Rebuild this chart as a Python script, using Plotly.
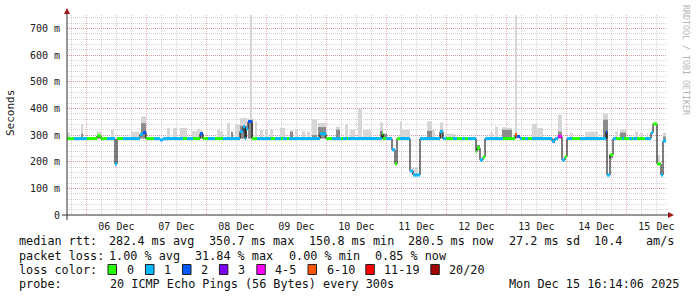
import pandas as pd
import plotly.graph_objects as go

# ---------------- data ----------------
START = pd.Timestamp("2025-12-05 16:14:06")
END = pd.Timestamp("2025-12-15 16:14:06")

# median rtt segments: start (hours after START), median (ms), lost pings (of 20)
seg_hours = [0, 2.8, 8, 12, 13.6, 16, 19.2, 20, 22.4, 29.2, 30.4, 31.6, 34.8, 37.2, 38.4,
             46.4, 48, 50.4, 53.2, 54.4, 56.4, 59.2, 62.4, 69.2, 70.4, 71.2, 71.6, 72.4, 74,
             76, 81.6, 83.2, 85.6, 86.4, 88, 88.8, 101.2, 103.6, 106, 109.6, 110.4, 112, 112.4,
             126, 126.4, 127.6, 130, 131.2, 132, 133.2, 137.2, 138.4, 141.2, 149.2, 150.4,
             151.6, 154.4, 156, 158, 159.2, 160.4, 163.6, 164, 165.2, 166.4, 167.2, 174.4,
             179.2, 180, 181.2, 182, 183.2, 184.4, 186, 194, 195.2, 196.4, 198, 199.2, 200,
             202, 205.2, 215.6, 216, 217.2, 218.4, 219.6, 222, 222.8, 224.8, 226, 226.4, 228,
             231.2, 233.6, 234.4, 236, 237.6, 238.4]
seg_median = [287, 287, 287, 297, 287, 287, 192, 287, 287, 303, 310, 287, 287, 282, 287,
              287, 287, 287, 305, 287, 287, 287, 287, 313, 331, 287, 324, 351, 287,
              287, 287, 287, 287, 287, 287, 287, 305, 287, 287, 287, 287, 287, 287,
              305, 287, 287, 245, 192, 287, 287, 165, 150, 287, 313, 287,
              287, 287, 287, 287, 287, 287, 238, 252, 207, 218, 287, 287,
              301, 295, 287, 287, 287, 287, 287, 278, 287, 295, 207, 219, 287,
              287, 287, 313, 150, 226, 287, 287, 287, 287, 287, 287, 287, 287,
              287, 309, 342, 192, 150, 278]
seg_loss = [0, 1, 0, 0, 0, 1, 1, 0, 1, 1, 2, 0, 1, 1, 1,
            0, 1, 0, 2, 0, 1, 0, 1, 1, 1, 1, 1, 2, 0,
            1, 0, 1, 0, 1, 0, 1, 1, 0, 1, 0, 1, 0, 1,
            0, 0, 1, 1, 0, 0, 1, 1, 1, 1, 1, 1,
            0, 1, 0, 1, 0, 1, 0, 0, 1, 0, 1, 0,
            7, 2, 1, 0, 1, 0, 1, 1, 1, 4, 1, 0, 1,
            0, 1, 2, 1, 0, 1, 0, 1, 0, 1, 0, 1, 0,
            1, 1, 0, 0, 1, 1]
data_end_hour = 239.6

# smoke (spread of the 20 pings): light = full spread, core = dense part
smoke_h0 = [0, 5.6, 12, 17.6, 19.2, 25.6, 29.6, 40, 42.4, 45.2, 50, 52, 53.2, 60, 61.2, 64,
            65.6, 67.2, 69.2, 72.4, 75.2, 77.2, 79.2, 81.2, 85.2, 89.2, 91.2, 94, 96, 98,
            100.4, 107.6, 111.2, 113.2, 116.4, 118.4, 121.2, 125.2, 126.4, 133.2, 134, 138,
            144, 146, 149.2, 151.2, 164, 169.2, 171.2, 174, 176, 179.2, 186, 188, 194, 196.4,
            201.2, 207.2, 214.4, 216.8, 219.2, 221.2, 227.2, 229.2, 232, 236, 238.4, 73.2]
smoke_h1 = [1.2, 6.4, 13.6, 18.8, 20, 28.8, 31.6, 41.2, 44, 48, 52, 53.2, 54.4, 61.2, 62.4, 65.2,
            66.4, 69.2, 72, 74.4, 76, 78.4, 80.4, 82.4, 87.2, 90.4, 92.4, 95.2, 97.2, 100,
            103.6, 109.2, 112.4, 115.2, 118, 121.2, 122, 126.4, 128, 134, 137.2, 140.4,
            146, 147.2, 150.4, 155.2, 165.2, 170.4, 172.4, 176, 178, 180, 188, 190.4, 195.2, 198,
            202.4, 212.4, 216.4, 218.4, 220.4, 223.6, 228.4, 230.4, 232.4, 237.2, 239.6, 74.0]
smoke_lo = [287, 287, 287, 287, 180, 287, 287, 287, 287, 287, 287, 287, 287, 287, 287, 287,
            287, 287, 287, 287, 287, 287, 287, 287, 287, 287, 287, 287, 287, 287,
            287, 287, 287, 287, 287, 287, 287, 287, 287, 287, 287, 150,
            287, 287, 287, 287, 240, 287, 287, 287, 287, 287, 287, 287, 270, 287,
            287, 287, 287, 213, 287, 287, 287, 287, 287, 192, 278, 287]
smoke_hi = [310, 342, 313, 320, 195, 313, 370, 327, 327, 327, 315, 324, 318, 320, 315, 346,
            313, 339, 364, 362, 351, 320, 320, 320, 327, 318, 320, 316, 313, 360,
            346, 332, 342, 320, 398, 320, 316, 348, 305, 351, 320, 177,
            351, 320, 348, 305, 263, 309, 332, 330, 327, 751, 342, 327, 287, 376,
            309, 313, 380, 226, 313, 320, 313, 309, 309, 226, 310, 751]

core_h0 = [5.6, 12, 29.6, 53.2, 65.6, 69.2, 72.4, 89.2, 98, 100.4, 107.6, 125.2, 126.4, 144,
           149.2, 164, 174, 176, 179.2, 194, 196.4, 214.4, 216.8, 221.2, 238.4]
core_h1 = [6.4, 13.6, 31.6, 54.4, 66.4, 72, 74.4, 90.4, 100, 103.6, 109.2, 126.4, 128, 146,
           150.4, 165.2, 176, 178, 180, 195.2, 198, 216.4, 218.4, 223.6, 239.6]
core_lo = [287, 287, 287, 287, 287, 287, 287, 287, 287, 287, 287, 287, 287, 287,
           287, 245, 287, 287, 287, 272, 287, 287, 213, 287, 278]
core_hi = [305, 300, 345, 310, 313, 335, 357, 313, 300, 330, 320, 316, 305, 316,
           320, 263, 320, 320, 309, 287, 313, 358, 226, 309, 295]

y_tick_vals = [0, 100, 200, 300, 400, 500, 600, 700]
y_tick_text = ["0", "100 m", "200 m", "300 m", "400 m", "500 m", "600 m", "700 m"]
y_max = 751

loss_labels = ["0", "1", "2", "3", "4-5", "6-10", "11-19", "20/20"]
loss_colors = ["#26ff00", "#00b8ff", "#0059ff", "#7e00ff", "#ff00ff", "#ff5500", "#ff0000", "#a10000"]

rtt_items = ["median rtt:", "282.4 ms avg", "350.7 ms max", "150.8 ms min", "280.5 ms now",
             "27.2 ms sd", "10.4", "am/s"]
loss_items = ["packet loss:", "1.00 % avg", "31.84 % max", "0.00 % min", "0.85 % now"]
probe_items = ["probe:", "20 ICMP Echo Pings (56 Bytes) every 300s"]
stamp = "Mon Dec 15 16:14:06 2025"

# ---------------- helpers ----------------
MONO = "DejaVu Sans Mono"
L, T, W, H = 67, 15, 600, 200


def t(h):
    return START + pd.Timedelta(hours=h)


def px(x):
    return (x - L) / W


def py(y):
    return (T + H - y) / H


def bucket(n):
    if n <= 3:
        return n
    if n <= 5:
        return 4
    if n <= 10:
        return 5
    if n <= 19:
        return 6
    return 7


def nb(s):
    return s.replace(" ", "\u00a0")


fig = go.Figure()

# smoke bars
for h0s, h1s, los, his, col in [(smoke_h0, smoke_h1, smoke_lo, smoke_hi, "#d6d6d6"),
                                (core_h0, core_h1, core_lo, core_hi, "#8c8c8c")]:
    fig.add_trace(go.Bar(
        x=[t((a + b) / 2) for a, b in zip(h0s, h1s)],
        y=[hi - lo for lo, hi in zip(los, his)],
        base=los,
        width=[(b - a) * 3600 * 1000 for a, b in zip(h0s, h1s)],
        marker=dict(color=col, line=dict(width=0)),
        hoverinfo="skip", showlegend=False))

# black step line of the median
fig.add_trace(go.Scatter(
    x=[t(h) for h in seg_hours] + [t(data_end_hour)],
    y=seg_median + [seg_median[-1]],
    mode="lines", line=dict(color="#000000", width=1, shape="hv"),
    hoverinfo="skip", showlegend=False))

# coloured median segments by loss
ends = seg_hours[1:] + [data_end_hour]
for b, col in enumerate(loss_colors):
    xs, ys = [], []
    for h0, h1, m, n in zip(seg_hours, ends, seg_median, seg_loss):
        if bucket(n) == b:
            xs += [t(h0), t(h1), None]
            ys += [m, m, None]
    if xs:
        fig.add_trace(go.Scatter(x=xs, y=ys, mode="lines",
                                 line=dict(color=col, width=3),
                                 hoverinfo="skip", showlegend=False))

major = "rgba(230,90,90,0.5)"
minor = "rgba(130,130,130,0.35)"

fig.update_layout(
    width=697, height=297, autosize=False,
    margin=dict(l=L, r=697 - L - W, t=T, b=297 - T - H),
    paper_bgcolor="white", plot_bgcolor="white",
    barmode="overlay", showlegend=False,
    font=dict(family=MONO, size=10, color="#202020"),
    xaxis=dict(
        type="date", range=[START, END],
        tick0="2025-12-06", dtick=86400000, tickformat="%d %b",
        ticklabelmode="period", ticks="", ticklabelstandoff=4,
        showgrid=True, gridcolor=major, griddash="1px,1px", gridwidth=1,
        minor=dict(dtick=6 * 3600000, showgrid=True, gridcolor=minor, griddash="1px,1px"),
        showline=False, zeroline=False,
        tickfont=dict(family=MONO, size=10, color="#202020")),
    yaxis=dict(
        range=[0, y_max], tickvals=y_tick_vals, ticktext=y_tick_text,
        ticks="", ticklabelstandoff=6,
        showgrid=True, gridcolor=major, griddash="1px,1px", gridwidth=1,
        minor=dict(dtick=20, showgrid=True, gridcolor=minor, griddash="1px,1px"),
        showline=False, zeroline=False,
        tickfont=dict(family=MONO, size=10, color="#202020")),
)

axis_col = "#303030"
arrow_col = "#a01818"
shapes = [
    dict(type="line", xref="paper", yref="paper", x0=px(67), x1=px(67), y0=py(220), y1=py(12),
         line=dict(color=axis_col, width=1)),
    dict(type="line", xref="paper", yref="paper", x0=px(62), x1=px(670), y0=py(215), y1=py(215),
         line=dict(color=axis_col, width=1)),
    dict(type="path", xref="paper", yref="paper",
         path=f"M {px(64)} {py(14)} L {px(70)} {py(14)} L {px(67)} {py(8)} Z",
         fillcolor=arrow_col, line=dict(color=arrow_col, width=0)),
    dict(type="path", xref="paper", yref="paper",
         path=f"M {px(668)} {py(212)} L {px(668)} {py(218)} L {px(674)} {py(215)} Z",
         fillcolor=arrow_col, line=dict(color=arrow_col, width=0)),
]

annotations = [
    dict(text="Seconds", xref="paper", yref="paper", x=px(10), y=py(113), showarrow=False,
         textangle=-90, font=dict(family=MONO, size=11, color="#202020"),
         xanchor="center", yanchor="middle"),
    dict(text=nb("RRDTOOL / TOBI OETIKER"), xref="paper", yref="paper", x=px(686), y=py(60),
         showarrow=False, textangle=90, font=dict(family=MONO, size=8.3, color="#b4b4b4"),
         xanchor="center", yanchor="middle"),
]

FS = 11.8


def add_text(s, x, y, anchor="left"):
    annotations.append(dict(text=nb(s), xref="paper", yref="paper", x=px(x), y=py(y),
                            showarrow=False, xanchor=anchor, yanchor="middle",
                            font=dict(family=MONO, size=FS, color="#101010")))


for s, x in zip(rtt_items, [16.5, 106.5, 206.5, 306.5, 406, 506.5, 591.5, 644]):
    add_text(s, x, 241)
for s, x in zip(loss_items, [16.5, 106.5, 193, 287, 373]):
    add_text(s, x, 255.5)
add_text("loss color:", 16.5, 269.5)
box_x = [108, 145.5, 182.5, 219.4, 256.8, 308, 365.8, 430.8]
for lab, col, bx in zip(loss_labels, loss_colors, box_x):
    shapes.append(dict(type="rect", xref="paper", yref="paper",
                       x0=px(bx), x1=px(bx + 8.5), y0=py(274.5), y1=py(264.5),
                       fillcolor=col, line=dict(color="#202020", width=1)))
    add_text(lab, bx + 16.5, 269.5)
add_text(probe_items[0], 16.5, 284)
add_text(probe_items[1], 108, 284)
add_text(stamp, 681, 284, anchor="right")

fig.update_layout(shapes=shapes, annotations=annotations)
fig.write_html("out.html")
